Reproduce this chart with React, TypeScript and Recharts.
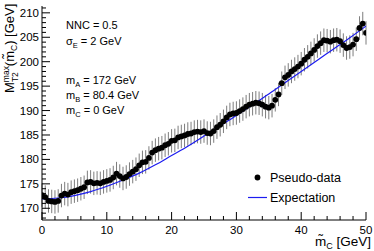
import { ErrorBar, Line, LineChart, XAxis, YAxis } from 'recharts'

// true mass hypothesis m~C [GeV]
const massPoints = [
  0, 0.5, 1, 1.5, 2, 2.5, 3, 3.5, 4, 4.5, 5, 5.5, 6, 6.5, 7, 7.5, 8, 8.5, 9, 9.5,
  10, 10.5, 11, 11.5, 12, 12.5, 13, 13.5, 14, 14.5, 15, 15.5, 16, 16.5, 17, 17.5, 18, 18.5, 19, 19.5,
  20, 20.5, 21, 21.5, 22, 22.5, 23, 23.5, 24, 24.5, 25, 25.5, 26, 26.5, 27, 27.5, 28, 28.5, 29, 29.5,
  30, 30.5, 31, 31.5, 32, 32.5, 33, 33.5, 34, 34.5, 35, 35.5, 36, 36.5, 37, 37.5, 38, 38.5, 39, 39.5,
  40, 40.5, 41, 41.5, 42, 42.5, 43, 43.5, 44, 44.5, 45, 45.5, 46, 46.5, 47, 47.5, 48, 48.5, 49, 49.5,
  50,
]

const pseudoValues = [
  172.7, 172.3, 171.5, 171.4, 171.3, 171.5, 172.6, 173.0, 172.8, 173.3,
  173.5, 173.7, 174.0, 174.3, 175.3, 175.4, 175.1, 175.2, 175.1, 175.4,
  175.6, 175.8, 176.3, 177.1, 176.6, 176.1, 176.4, 177.0, 177.5, 178.0,
  178.8, 179.4, 179.5, 180.3, 181.4, 181.9, 182.2, 182.4, 182.9, 183.2,
  183.8, 183.9, 184.5, 184.7, 184.9, 185.2, 185.3, 185.6, 185.7, 185.6,
  185.8, 185.4, 185.3, 185.8, 186.6, 187.1, 187.8, 188.6, 189.2, 189.4,
  189.5, 189.9, 190.3, 190.8, 191.2, 191.4, 191.6, 191.5, 191.2, 190.8,
  190.6, 191.0, 192.2, 193.3, 195.6, 196.8, 197.3, 198.0, 198.5, 199.0,
  199.6, 200.4, 201.0, 201.7, 202.4, 203.2, 203.8, 204.4, 204.3, 204.1,
  204.4, 204.5, 204.2, 203.4, 202.8, 203.0, 203.5, 204.6, 206.9, 207.8,
  205.9,
]
const pseudoError = 2.4

const expectationMass = [0, 2.5, 5, 7.5, 10, 12.5, 15, 17.5, 20, 22.5, 25, 27.5, 30, 32.5, 35, 37.5, 40, 42.5, 45, 47.5, 50]
const expectationValues = [
  171.9, 172.1, 172.6, 173.4, 174.5, 175.8, 177.2, 178.9, 180.8, 182.7, 184.8,
  186.9, 189.0, 191.2, 193.4, 195.7, 198.0, 200.3, 202.6, 204.9, 207.3,
]

const xTicks = [0, 2, 4, 6, 8, 10, 12, 14, 16, 18, 20, 22, 24, 26, 28, 30, 32, 34, 36, 38, 40, 42, 44, 46, 48, 50]
const yTicks = [
  168, 169, 170, 171, 172, 173, 174, 175, 176, 177, 178, 179, 180, 181, 182, 183, 184, 185, 186, 187, 188, 189,
  190, 191, 192, 193, 194, 195, 196, 197, 198, 199, 200, 201, 202, 203, 204, 205, 206, 207, 208, 209, 210, 211,
]

const pseudoData = massPoints.map((m, i) => ({ m, y: pseudoValues[i], err: pseudoError }))
const expectationData = expectationMass.map((m, i) => ({ m, y: expectationValues[i] }))

const FONT = '"Liberation Sans", Arial, Helvetica, sans-serif'
const W = 374
const H = 251

function BottomTick({ x, y, payload }: any) {
  const major = payload.value % 10 === 0
  return (
    <g>
      <line x1={x} x2={x} y1={y} y2={y - (major ? 8 : 4)} stroke="#000" />
      {major && (
        <text x={x} y={y + 13.5} textAnchor="middle" fontSize={11.5} fontFamily={FONT} fill="#000">
          {payload.value}
        </text>
      )}
    </g>
  )
}

function TopTick({ x, y, payload }: any) {
  const major = payload.value % 10 === 0
  return <line x1={x} x2={x} y1={y} y2={y + (major ? 8 : 4)} stroke="#000" />
}

function LeftTick({ x, y, payload }: any) {
  const major = payload.value % 5 === 0
  return (
    <g>
      <line x1={x} x2={x + (major ? 8 : 4)} y1={y} y2={y} stroke="#000" />
      {major && (
        <text x={x - 3} y={y + 4} textAnchor="end" fontSize={11.5} fontFamily={FONT} fill="#000">
          {payload.value}
        </text>
      )}
    </g>
  )
}

function RightTick({ x, y, payload }: any) {
  const major = payload.value % 5 === 0
  return <line x1={x} x2={x - (major ? 8 : 4)} y1={y} y2={y} stroke="#000" />
}

export default function App() {
  return (
    <div style={{ position: 'absolute', left: 0, top: 0, width: W, height: H, background: '#fff' }}>
      <LineChart width={W} height={H} margin={{ top: 6, right: 8, bottom: 0, left: 0 }}>
        <XAxis
          dataKey="m"
          type="number"
          domain={[0, 50]}
          ticks={xTicks}
          interval={0}
          tickSize={0}
          tickMargin={0}
          tickLine={false}
          tick={<BottomTick />}
          height={31}
          axisLine={{ stroke: '#000' }}
          allowDataOverflow
        />
        <XAxis
          xAxisId="top"
          orientation="top"
          dataKey="m"
          type="number"
          domain={[0, 50]}
          ticks={xTicks}
          interval={0}
          tickSize={0}
          tickMargin={0}
          tickLine={false}
          tick={<TopTick />}
          height={0}
          axisLine={{ stroke: '#000' }}
          allowDataOverflow
        />
        <YAxis
          type="number"
          domain={[167.6, 211.4]}
          ticks={yTicks}
          interval={0}
          tickSize={0}
          tickMargin={0}
          tickLine={false}
          tick={<LeftTick />}
          width={42}
          axisLine={{ stroke: '#000' }}
          allowDataOverflow
        />
        <YAxis
          yAxisId="right"
          orientation="right"
          type="number"
          domain={[167.6, 211.4]}
          ticks={yTicks}
          interval={0}
          tickSize={0}
          tickMargin={0}
          tickLine={false}
          tick={<RightTick />}
          width={0}
          axisLine={{ stroke: '#000' }}
          allowDataOverflow
        />
        <Line
          data={pseudoData}
          dataKey="y"
          stroke="none"
          dot={{ r: 2.9, fill: '#000', stroke: 'none' }}
          activeDot={false}
          isAnimationActive={false}
        >
          <ErrorBar dataKey="err" width={0} stroke="#7d7d7d" strokeWidth={1} direction="y" />
        </Line>
        <Line
          data={expectationData}
          dataKey="y"
          type="monotone"
          stroke="#1c1cf0"
          strokeWidth={1.2}
          dot={false}
          activeDot={false}
          isAnimationActive={false}
        />
      </LineChart>
      <svg
        width={W}
        height={H}
        style={{ position: 'absolute', left: 0, top: 0, pointerEvents: 'none' }}
        fontFamily={FONT}
      >
        <g transform="translate(14, 93) rotate(-90)" fontSize={13} fill="#000">
          <text x={0} y={0}>
            M
            <tspan fontSize={8.5} dy={-5}>max</tspan>
            <tspan fontSize={8.5} dx={-16} dy={9}>T2</tspan>
            <tspan dx={6} dy={-4}>(m̃</tspan>
            <tspan fontSize={8.5} dy={3}>C</tspan>
            <tspan dy={-3}>) [GeV]</tspan>
          </text>
        </g>
        <text x={371} y={246} textAnchor="end" fontSize={13.5} fill="#000">
          m̃<tspan fontSize={9} dy={3}>C</tspan>
          <tspan dy={-3}> [GeV]</tspan>
        </text>
        <g fontSize={11} fill="#000">
          <text x={66} y={28.5}>NNC = 0.5</text>
          <text x={66} y={45}>
            σ<tspan fontSize={7.5} dy={3}>E</tspan>
            <tspan dy={-3}> = 2 GeV</tspan>
          </text>
          <text x={66} y={84}>
            m<tspan fontSize={7.5} dy={3}>A</tspan>
            <tspan dy={-3}> = 172 GeV</tspan>
          </text>
          <text x={66} y={99}>
            m<tspan fontSize={7.5} dy={3}>B</tspan>
            <tspan dy={-3}> = 80.4 GeV</tspan>
          </text>
          <text x={66} y={114}>
            m<tspan fontSize={7.5} dy={3}>C</tspan>
            <tspan dy={-3}> = 0 GeV</tspan>
          </text>
        </g>
        <circle cx={257.5} cy={177.5} r={2.9} fill="#000" />
        <text x={270} y={182} fontSize={12.5} fill="#000">Pseudo-data</text>
        <line x1={248} x2={267} y1={197.5} y2={197.5} stroke="#1c1cf0" strokeWidth={1.2} />
        <text x={270} y={202} fontSize={12.5} fill="#000">Expectation</text>
      </svg>
    </div>
  )
}
